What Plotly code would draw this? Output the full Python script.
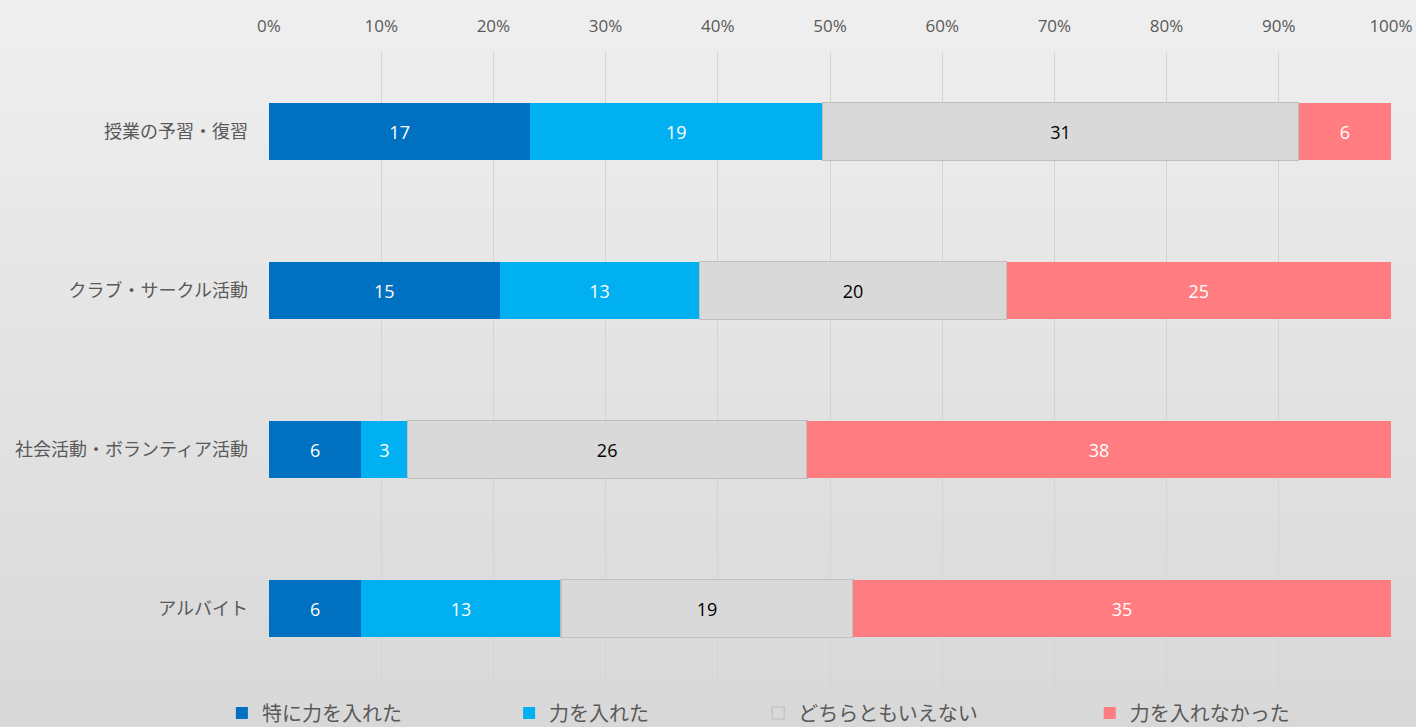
import plotly.graph_objects as go

categories = ["授業の予習・復習", "クラブ・サークル活動", "社会活動・ボランティア活動", "アルバイト"]
series_names = ["特に力を入れた", "力を入れた", "どちらともいえない", "力を入れなかった"]
v_tokuni = [17, 15, 6, 6]
v_ireta = [19, 13, 3, 13]
v_dochira = [31, 20, 26, 19]
v_irenakatta = [6, 25, 38, 35]
tick_vals = [0, 10, 20, 30, 40, 50, 60, 70, 80, 90, 100]
tick_text = [f"{v}%" for v in tick_vals]

series_values = [v_tokuni, v_ireta, v_dochira, v_irenakatta]
colors = ["#0070C0", "#00B0F0", "#D9D9D9", "#FF7C80"]
line_colors = ["#0070C0", "#00B0F0", "#BFBFBF", "#FF7C80"]
line_widths = [0, 0, 1.2, 0]
text_colors = ["white", "white", "black", "white"]
legend_ids = ["legend", "legend2", "legend3", "legend4"]
legend_x = [-0.042, 0.214, 0.436, 0.7315]

FONT = "Open Sans, Noto Sans CJK JP, sans-serif"

fig = go.Figure()
for name, vals, c, lc, lw, tc, lg in zip(series_names, series_values, colors, line_colors,
                                         line_widths, text_colors, legend_ids):
    fig.add_trace(go.Bar(
        name=name, y=categories, x=vals, orientation="h",
        marker=dict(color=c, line=dict(color=lc, width=lw)),
        text=vals, textposition="inside", insidetextanchor="middle",
        textfont=dict(color=tc, size=18, family=FONT),
        legend=lg, hoverinfo="skip",
    ))

W, H = 1416, 727
L, R, T, B = 269, 25, 52, 39
pw, ph = W - L - R, H - T - B

# background gradient as stacked strips
n = 90
top_c = (239, 239, 239)
bot_c = (216, 216, 216)
y0p = -B / ph
y1p = 1 + T / ph
shapes = []
for i in range(n):
    f = i / (n - 1)
    col = tuple(round(top_c[k] + (bot_c[k] - top_c[k]) * f) for k in range(3))
    ya = y1p - (y1p - y0p) * i / n
    yb = y1p - (y1p - y0p) * (i + 1) / n
    shapes.append(dict(type="rect", xref="paper", yref="paper",
                       x0=-L / pw - 0.01, x1=1 + R / pw + 0.01, y0=yb - 0.002, y1=ya + 0.002,
                       fillcolor="rgb(%d,%d,%d)" % col, line=dict(width=0), layer="below"))

legend_common = dict(orientation="h", yref="container", yanchor="middle", y=14 / H,
                     xanchor="left", bgcolor="rgba(0,0,0,0)",
                     font=dict(size=20, color="#595959", family=FONT))

layout_legends = {}
for lg, lx in zip(legend_ids, legend_x):
    layout_legends[lg] = dict(legend_common, x=lx)

fig.update_layout(
    width=W, height=H,
    margin=dict(l=L, r=R, t=T, b=B, pad=0, autoexpand=False),
    barmode="stack", barnorm="percent", bargap=0.64,
    paper_bgcolor="rgba(0,0,0,0)", plot_bgcolor="rgba(0,0,0,0)",
    font=dict(family=FONT, color="#595959"),
    shapes=shapes,
    showlegend=True,
    xaxis=dict(side="top", range=[0, 100], tickvals=tick_vals, ticktext=tick_text,
               showgrid=True, gridcolor="#D4D4D4", gridwidth=1, zeroline=False,
               showline=False, ticks="", ticklabelstandoff=16, automargin=False,
               tickfont=dict(size=17, color="#595959", family=FONT), fixedrange=True),
    yaxis=dict(autorange="reversed", showgrid=False, zeroline=False, showline=False,
               ticks="", ticklabelstandoff=20, automargin=False,
               tickfont=dict(size=18, color="#595959", family=FONT), fixedrange=True),
    **layout_legends,
)

fig.write_html("out.html", config={"displayModeBar": False},
               post_script="document.body.style.margin='0';")
